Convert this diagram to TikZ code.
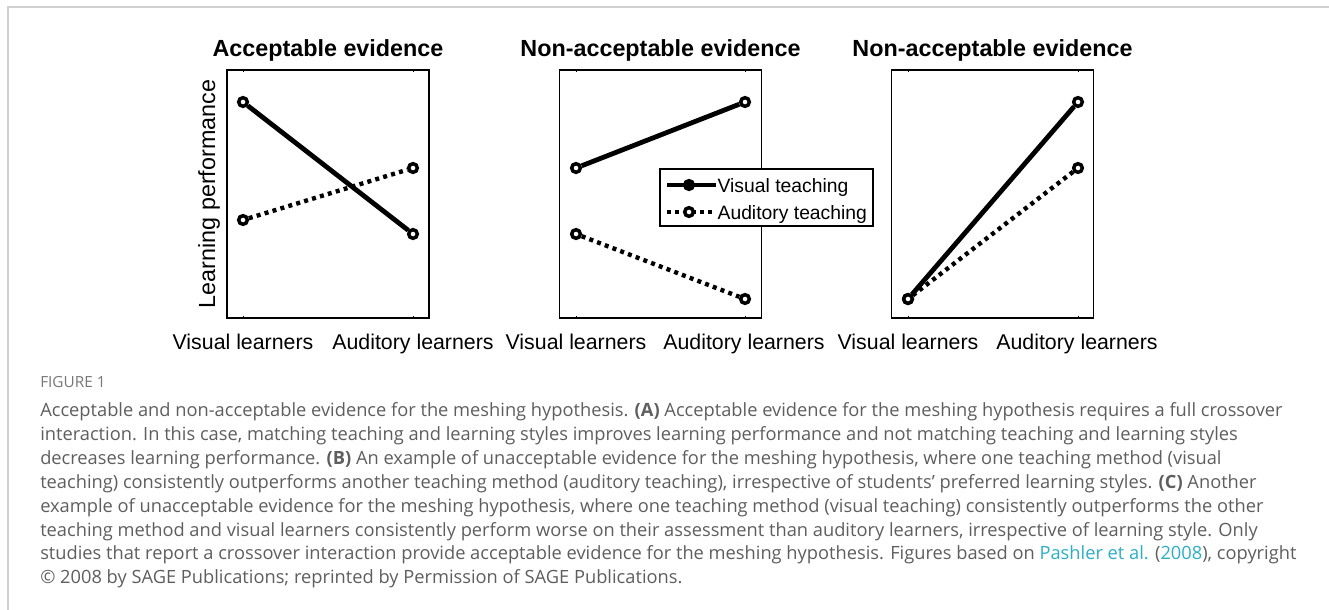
\documentclass[tikz,border=0pt]{standalone}
\usepackage{fontspec}
\setmainfont{Liberation Sans}
\newfontfamily\captionfont{Open Sans}
\usetikzlibrary{positioning}
\definecolor{frame gray}{HTML}{D0D0D0}
\definecolor{caption gray}{HTML}{5E5E5E}
\definecolor{link teal}{HTML}{2BAEC4}
\tikzset{
    panel/.style = {draw, line width = 1pt, minimum width = 151.5pt, minimum height = 186pt, inner sep = 0pt},
    tickmark/.style = {line width = 0.6pt},
    visual/.style = {line width = 3.6pt},
    auditory/.style = {line width = 3.3pt, dash pattern = on 3pt off 3.2pt},
    ring/.style = {circle, draw, line width = 2.6pt, fill = white, minimum size = 6.5pt, inner sep = 0pt},
    paneltitle/.style = {font = \fontsize{17.5}{21}\selectfont\bfseries, anchor = base},
    xlabel/.style = {font = \fontsize{16}{19}\selectfont, anchor = base},
    ylabel/.style = {font = \fontsize{17.5}{21}\selectfont, anchor = base, rotate = 90},
    legendtext/.style = {font = \fontsize{14.5}{17}\selectfont, anchor = base west, inner sep = 1pt},
    caption/.style = {font = \captionfont\fontsize{13.7}{17.9}\selectfont, text = caption gray, align = left, inner sep = 0pt}
}
\begin{document}
\begin{tikzpicture}[x = 0.75pt, y = -0.75pt]
    \useasboundingbox (0, 0) rectangle (1329, 610);
    \coordinate (frame-bl) at (7.5, 610);
    \coordinate (frame-tl) at (7.5, 7.5);
    \coordinate (frame-tr) at (1329, 7.5);
    \draw [frame gray, line width = 1.5pt] (frame-bl) -- (frame-tl) -- (frame-tr);

    \node [panel] (boxA) at (328, 194) {};
    \node [panel] (boxB) at (660.5, 194) {};
    \node [panel] (boxC) at (992.5, 194) {};

    \node [paneltitle] (titleA) at (328, 57) {Acceptable evidence};
    \node [paneltitle] (titleB) at (660.5, 57) {Non-acceptable evidence};
    \node [paneltitle] (titleC) at (992.5, 57) {Non-acceptable evidence};
    \node [ylabel] (ylab) at (215, 194) {Learning performance};

    \node [ring] (Av1) at (243, 102) {};
    \node [ring] (Av2) at (413, 234) {};
    \node [ring] (Aa1) at (243, 220) {};
    \node [ring] (Aa2) at (413, 168) {};
    \draw [visual] (Av1) -- (Av2);
    \draw [auditory] (Aa1) -- (Aa2);

    \node [ring] (Bv1) at (576, 168) {};
    \node [ring] (Bv2) at (745, 102) {};
    \node [ring] (Ba1) at (576, 234) {};
    \node [ring] (Ba2) at (745, 299) {};
    \draw [visual] (Bv1) -- (Bv2);
    \draw [auditory] (Ba1) -- (Ba2);

    \node [ring] (Cv1) at (908, 299) {};
    \node [ring] (Cv2) at (1078, 102) {};
    \node [ring] (Ca1) at (908, 299) {};
    \node [ring] (Ca2) at (1078, 168) {};
    \draw [visual] (Cv1) -- (Cv2);
    \draw [auditory] (Ca1) -- (Ca2);

    \foreach \b/\p in {boxA/Av1, boxA/Av2, boxB/Bv1, boxB/Bv2, boxC/Cv1, boxC/Cv2} {
        \draw [tickmark] (\b.north -| \p) -- ++(0, 3);
        \draw [tickmark] (\b.south -| \p) -- ++(0, -3);
    }

    \node [xlabel] (Axv) at (243, 349) {Visual learners};
    \node [xlabel] (Axa) at (413, 349) {Auditory learners};
    \node [xlabel] (Bxv) at (576, 349) {Visual learners};
    \node [xlabel] (Bxa) at (744, 349) {Auditory learners};
    \node [xlabel] (Cxv) at (908, 349) {Visual learners};
    \node [xlabel] (Cxa) at (1077, 349) {Auditory learners};

    \node [draw, line width = 1pt, fill = white, minimum width = 159.75pt, minimum height = 42.75pt, inner sep = 0pt] (legend) at (766.5, 197.5) {};
    \node [legendtext] (legV) at (716, 192) {Visual teaching};
    \node [legendtext] (legA) at (716, 219) {Auditory teaching};
    \coordinate (legV-start) at (667, 185);
    \coordinate (legA-start) at (667, 212);
    \draw [visual] (legV-start) -- (legV-start -| legV.west);
    \draw [auditory] (legA-start) -- (legA-start -| legA.west);
    \node [ring, fill = black] (legVm) at (689, 185) {};
    \node [ring] (legAm) at (689, 212) {};

    \node [anchor = west, inner sep = 0pt, font = \captionfont\fontsize{11.5}{13}\selectfont, text = caption gray!85] (fig) at (40, 382) {FIGURE 1};
    \node [caption, anchor = north west] (cap) at (40, 402.5) {Acceptable and non-acceptable evidence for the meshing hypothesis. \textbf{(A)} Acceptable evidence for the meshing hypothesis requires a full crossover\\
    interaction. In this case, matching teaching and learning styles improves learning performance and not matching teaching and learning styles\\
    decreases learning performance. \textbf{(B)} An example of unacceptable evidence for the meshing hypothesis, where one teaching method (visual\\
    teaching) consistently outperforms another teaching method (auditory teaching), irrespective of students’ preferred learning styles. \textbf{(C)} Another\\
    example of unacceptable evidence for the meshing hypothesis, where one teaching method (visual teaching) consistently outperforms the other\\
    teaching method and visual learners consistently perform worse on their assessment than auditory learners, irrespective of learning style. Only\\
    studies that report a crossover interaction provide acceptable evidence for the meshing hypothesis. Figures based on \textcolor{link teal}{Pashler et al.} (\textcolor{link teal}{2008}), copyright\\
    © 2008 by SAGE Publications; reprinted by Permission of SAGE Publications.};
\end{tikzpicture}
\end{document}
